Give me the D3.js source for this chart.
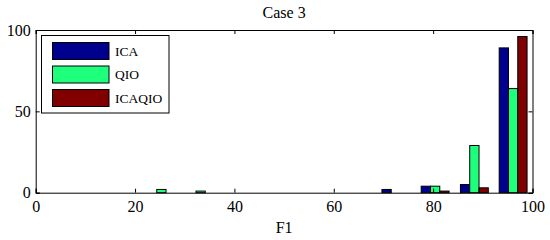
<!DOCTYPE html>
<html>
<head>
<meta charset="utf-8">
<script src="https://cdn.jsdelivr.net/npm/d3@7"></script>
<style>
  body { margin: 0; background: #fff; }
  text { font-family: "Liberation Serif", "Times New Roman", serif; fill: #000; }
</style>
</head>
<body>
<div class="chart"></div>
<script>
// data (histogram, 10 bins)
const binCenters = [25.3, 33.2, 41.0, 48.9, 56.8, 64.7, 72.5, 80.4, 88.3, 96.1];
const seriesNames = ["ICA", "QIO", "ICAQIO"];
const icaCounts    = [0, 0, 0, 0, 0, 0, 2, 4, 5, 89];
const qioCounts    = [2, 1, 0, 0, 0, 0, 0, 4, 29, 64];
const icaqioCounts = [0, 0, 0, 0, 0, 0, 0, 1, 3, 96];
const seriesColors = ["#00008f", "#1eff7c", "#800000"];
const xTicks = [0, 20, 40, 60, 80, 100];
const yTicks = [0, 50, 100];

const width = 550;
const height = 240;
const margin = { top: 30, right: 17.5, bottom: 47.3, left: 35.7 };

const svg = d3.select('.chart')
  .append('svg')
  .attr('width', width)
  .attr('height', height);

const x = d3.scaleLinear()
  .domain([0, 100])
  .range([margin.left, width - margin.right]);

const y = d3.scaleLinear()
  .domain([0, 100])
  .range([height - margin.bottom, margin.top]);

const barW = 1.87; // bar width in F1 units
const allCounts = [icaCounts, qioCounts, icaqioCounts];

const bars = [];
allCounts.forEach((counts, s) => {
  counts.forEach((c, i) => {
    if (c > 0) bars.push({ s, center: binCenters[i], value: c });
  });
});

svg.append("g")
  .selectAll("rect")
  .data(bars)
  .join("rect")
  .attr("x", d => x(d.center + (d.s - 1.5) * barW))
  .attr("y", d => y(d.value))
  .attr("width", d => x(barW) - x(0))
  .attr("height", d => y(0) - y(d.value))
  .attr("fill", d => seriesColors[d.s])
  .attr("stroke", "#000")
  .attr("stroke-width", 1);

// axes (ticks inside, mirrored on top/right)
const tickLen = 4;
const xAxis = g => {
  g.attr("transform", `translate(0,${height - margin.bottom})`)
  .call(d3.axisBottom(x).tickValues(xTicks).tickSize(-tickLen).tickPadding(8))
  .attr("font-size", "16px")
  .attr("font-family", null);
};
const xAxisTop = g => {
  g.attr("transform", `translate(0,${margin.top})`)
  .call(d3.axisTop(x).tickValues(xTicks).tickSize(-tickLen).tickFormat(""));
};
const yAxis = g => {
  g.attr("transform", `translate(${margin.left},0)`)
  .call(d3.axisLeft(y).tickValues(yTicks).tickSize(-tickLen).tickPadding(5))
  .attr("font-size", "16px")
  .attr("font-family", null);
};
const yAxisRight = g => {
  g.attr("transform", `translate(${width - margin.right},0)`)
  .call(d3.axisRight(y).tickValues(yTicks).tickSize(-tickLen).tickFormat(""));
};

svg.append("g").call(xAxis);
svg.append("g").call(xAxisTop);
svg.append("g").call(yAxis);
svg.append("g").call(yAxisRight);
svg.selectAll(".domain").attr("stroke", "#000");
svg.selectAll(".tick line").attr("stroke", "#000");
svg.selectAll(".tick text").attr("fill", "#000");

// title and label
svg.append("text")
  .attr("x", (margin.left + width - margin.right) / 2)
  .attr("y", 18)
  .attr("text-anchor", "middle")
  .attr("font-size", "16px")
  .text("Case 3");

svg.append("text")
  .attr("x", (margin.left + width - margin.right) / 2)
  .attr("y", 233)
  .attr("text-anchor", "middle")
  .attr("font-size", "16px")
  .text("F1");

// legend
const legend = svg.append("g").attr("transform", "translate(41.5,35.5)");
legend.append("rect")
  .attr("width", 127.5)
  .attr("height", 77.5)
  .attr("fill", "#fff")
  .attr("stroke", "#000");

const item = legend.selectAll("g.item")
  .data(seriesNames)
  .join("g")
  .attr("class", "item")
  .attr("transform", (d, i) => `translate(0,${7 + i * 23.5})`);

item.append("rect")
  .attr("x", 11)
  .attr("width", 56.5)
  .attr("height", 17)
  .attr("fill", (d, i) => seriesColors[i])
  .attr("stroke", "#000");

item.append("text")
  .attr("x", 73.5)
  .attr("y", 8.5)
  .attr("dy", "0.35em")
  .attr("font-size", "13.5px")
  .text(d => d);
</script>
</body>
</html>
